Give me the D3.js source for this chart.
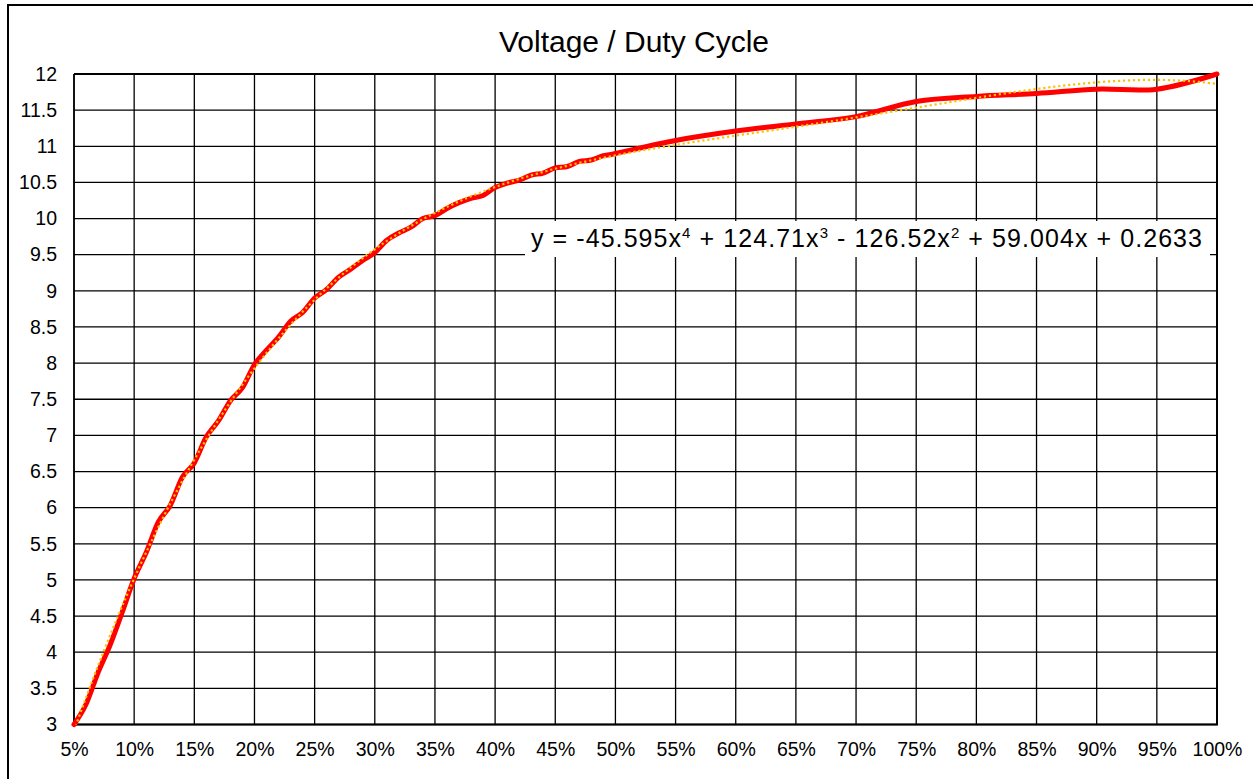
<!DOCTYPE html>
<html>
<head>
<meta charset="utf-8">
<script src="https://cdn.jsdelivr.net/npm/d3@7"></script>
<style>
  html, body { margin: 0; padding: 0; background: #ffffff; overflow: hidden; }
  svg { display: block; }
  text { font-family: "Liberation Sans", Arial, sans-serif; fill: #000; }
</style>
</head>
<body>
<svg id="chart" width="1253" height="779"></svg>
<script>
// ---- data ----
const dutyCycle = [5,6,7,8,9,10,11,12,13,14,15,16,17,18,19,20,21,22,23,24,25,26,27,28,29,30,
  31,32,33,34,35,36,37,38,39,40,41,42,43,44,45,46,47,48,49,50,55,60,65,70,75,80,85,90,95,100];
const voltage = [3.00,3.28,3.72,4.10,4.55,5.02,5.38,5.80,6.03,6.42,6.62,6.98,7.20,7.48,7.66,7.98,
  8.18,8.36,8.58,8.70,8.90,9.02,9.19,9.30,9.42,9.53,9.70,9.80,9.88,10.00,10.04,10.14,10.22,10.28,
  10.32,10.43,10.49,10.53,10.60,10.63,10.70,10.72,10.79,10.81,10.87,10.90,11.08,11.21,11.31,11.41,
  11.62,11.69,11.73,11.79,11.79,12.00];
const xTickValues = [5,10,15,20,25,30,35,40,45,50,55,60,65,70,75,80,85,90,95,100];
const yTickValues = [3,3.5,4,4.5,5,5.5,6,6.5,7,7.5,8,8.5,9,9.5,10,10.5,11,11.5,12];
// polynomial trendline coefficients shown in the chart (x^4, x^3, x^2, x, const)
const trendCoefficients = [-45.595, 124.71, -126.52, 59.004, 0.2633];
const titleText = "Voltage / Duty Cycle";
const equationParts = [
  {t: "y = -45.595x", sup: false}, {t: "4", sup: true},
  {t: " + 124.71x", sup: false}, {t: "3", sup: true},
  {t: " - 126.52x", sup: false}, {t: "2", sup: true},
  {t: " + 59.004x + 0.2633", sup: false}
];

// ---- layout ----
const svg = d3.select("#chart");
const plot = {left: 74, right: 1217, top: 74, bottom: 724.5};

const x = d3.scaleLinear().domain([5, 100]).range([plot.left, plot.right]);
const y = d3.scaleLinear().domain([3, 12]).range([plot.bottom, plot.top]);

// outer chart border: only left and top edges are inside the picture
svg.append("line").attr("x1", 8).attr("x2", 8).attr("y1", 4).attr("y2", 779)
  .attr("stroke", "#000").attr("stroke-width", 2);
svg.append("line").attr("x1", 7).attr("x2", 1253).attr("y1", 5).attr("y2", 5)
  .attr("stroke", "#000").attr("stroke-width", 2);

// title
svg.append("text").attr("x", 634).attr("y", 52).attr("text-anchor", "middle")
  .style("font-size", "30px").text(titleText);

// grid
const grid = svg.append("g");
grid.selectAll("line.v").data(xTickValues).join("line").attr("class", "v")
  .attr("x1", d => x(d)).attr("x2", d => x(d)).attr("y1", plot.top).attr("y2", plot.bottom)
  .attr("stroke", "#000").attr("stroke-width", 1.3);
grid.selectAll("line.h").data(yTickValues).join("line").attr("class", "h")
  .attr("x1", plot.left).attr("x2", plot.right).attr("y1", d => y(d)).attr("y2", d => y(d))
  .attr("stroke", "#000").attr("stroke-width", 1.3);
// axes lines (slightly heavier)
svg.append("line").attr("x1", plot.left).attr("x2", plot.right + 1).attr("y1", plot.bottom).attr("y2", plot.bottom)
  .attr("stroke", "#000").attr("stroke-width", 2.2);
svg.append("line").attr("x1", plot.left).attr("x2", plot.left).attr("y1", plot.top).attr("y2", plot.bottom)
  .attr("stroke", "#000").attr("stroke-width", 1.6);
svg.append("line").attr("x1", plot.right).attr("x2", plot.right).attr("y1", plot.top).attr("y2", plot.bottom)
  .attr("stroke", "#000").attr("stroke-width", 2);
svg.append("line").attr("x1", plot.left).attr("x2", plot.right).attr("y1", plot.top).attr("y2", plot.top)
  .attr("stroke", "#000").attr("stroke-width", 1.8);

// tick labels via axes (no tick lines/domains)
const yAxis = d3.axisLeft(y).tickValues(yTickValues).tickSize(0).tickPadding(17).tickFormat(d3.format(""));
const yg = svg.append("g").attr("transform", `translate(${plot.left},0)`).call(yAxis);
const xAxis = d3.axisBottom(x).tickValues(xTickValues).tickSize(0).tickPadding(18).tickFormat(d => d + "%");
const xg = svg.append("g").attr("transform", `translate(0,${plot.bottom})`).call(xAxis);
[yg, xg].forEach(g => {
  g.select(".domain").remove();
  g.selectAll("text").style("font-size", "19.5px").style("font-family", '"Liberation Sans", Arial, sans-serif').attr("fill", "#000");
});

// clip
svg.append("clipPath").attr("id", "clip").append("rect")
  .attr("x", plot.left).attr("y", plot.top - 4).attr("width", plot.right - plot.left + 4).attr("height", plot.bottom - plot.top + 4);

// data line (smoothed)
const pts = dutyCycle.map((d, i) => [d, voltage[i]]);
const line = d3.line().x(d => x(d[0])).y(d => y(d[1])).curve(d3.curveCardinal.tension(0));
svg.append("path").datum(pts).attr("d", line).attr("fill", "none")
  .attr("stroke", "#ff0000").attr("stroke-width", 5).attr("stroke-linejoin", "round").attr("stroke-linecap", "round");

// trendline (from displayed polynomial), dotted, on top
const trendX = d3.range(5, 100.01, 0.5);
const poly = p => { const u = p / 100; return trendCoefficients.reduce((acc, c) => acc * u + c, 0); };
const trendPts = trendX.map(p => [p, poly(p)]);
svg.append("path").datum(trendPts).attr("clip-path", "url(#clip)")
  .attr("d", d3.line().x(d => x(d[0])).y(d => y(d[1])))
  .attr("fill", "none").attr("stroke", "#ffc000").attr("stroke-width", 2.2).attr("stroke-dasharray", "2.2,2.8");

// equation label with white background
svg.append("rect").attr("x", 525).attr("y", 221).attr("width", 685).attr("height", 36).attr("fill", "#fff");
const eq = svg.append("text").attr("x", 531).attr("y", 247).style("font-size", "25px").style("white-space", "pre")
  .attr("textLength", 671).attr("lengthAdjust", "spacing");
equationParts.forEach((p, i) => {
  const prevSup = i > 0 && equationParts[i - 1].sup;
  const ts = eq.append("tspan").text(p.t);
  if (p.sup) ts.attr("dy", -9).style("font-size", "15px");
  else if (prevSup) ts.attr("dy", 9);
});
</script>
</body>
</html>
